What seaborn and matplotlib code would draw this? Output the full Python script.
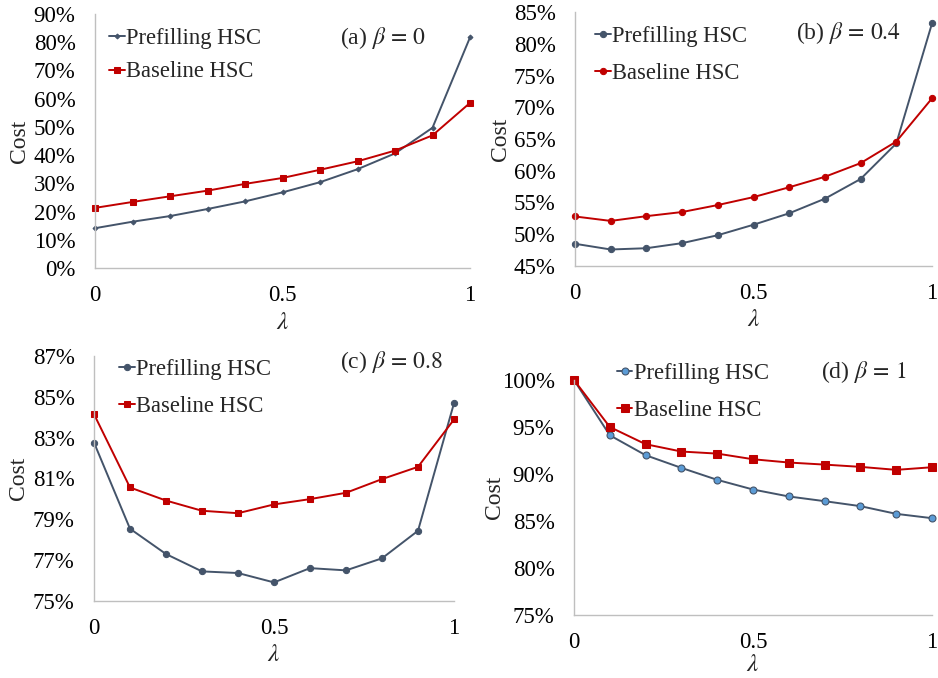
import matplotlib
matplotlib.use("Agg")
import matplotlib.pyplot as plt
import seaborn as sns
import pandas as pd
from matplotlib.ticker import PercentFormatter

# lambda values shared by all panels
lam = [0.0, 0.1, 0.2, 0.3, 0.4, 0.5, 0.6, 0.7, 0.8, 0.9, 1.0]

# cost (fraction) for beta = 0
pref_b0 = [0.141, 0.164, 0.184, 0.209, 0.236, 0.268, 0.304, 0.350, 0.406, 0.497, 0.817]
base_b0 = [0.213, 0.234, 0.254, 0.274, 0.298, 0.319, 0.348, 0.378, 0.416, 0.470, 0.585]

# cost for beta = 0.4
pref_b04 = [0.485, 0.476, 0.478, 0.486, 0.4985, 0.515, 0.533, 0.556, 0.587, 0.643, 0.832]
base_b04 = [0.528, 0.521, 0.5285, 0.535, 0.546, 0.5585, 0.574, 0.5905, 0.612, 0.646, 0.714]

# cost for beta = 0.8
pref_b08 = [0.8276, 0.7854, 0.7730, 0.7645, 0.7637, 0.7591, 0.7661, 0.7650, 0.7709, 0.7844, 0.8469]
base_b08 = [0.8415, 0.8056, 0.7992, 0.7942, 0.7930, 0.7973, 0.7999, 0.8030, 0.8097, 0.8157, 0.8389]

# cost for beta = 1
pref_b1 = [1.000, 0.9412, 0.920, 0.9065, 0.8938, 0.8835, 0.8761, 0.8711, 0.8658, 0.8576, 0.8530]
base_b1 = [1.000, 0.950, 0.9317, 0.9239, 0.9217, 0.9157, 0.9122, 0.910, 0.9076, 0.9044, 0.9072]

series_names = ["Prefilling HSC", "Baseline HSC"]
panel_titles = [r"(a) $\beta\,=\,0$", r"(b) $\beta\,=\,0.4$",
                r"(c) $\beta\,=\,0.8$", r"(d) $\beta\,=\,1$"]
x_ticks = [0, 0.5, 1]
x_tick_labels = ["0", "0.5", "1"]

sns.set_theme(style="white")
plt.rcParams["font.family"] = ["Liberation Serif", "DejaVu Serif"]
plt.rcParams["mathtext.fontset"] = "stix"

W, H = 938, 678
fig = plt.figure(figsize=(W / 100, H / 100), dpi=100)

PREF = "#44546A"
BASE = "#C00000"


def box(left, top, right, bottom):
    return [left / W, 1 - bottom / H, (right - left) / W, (bottom - top) / H]


panels = [
    dict(pos=box(95, 14, 470, 268), pref=pref_b0, base=base_b0,
         ylim=(0, 0.9), yticks=[i / 10 for i in range(10)],
         pm=dict(marker="D", markersize=2.5, mfc=PREF, mec=PREF),
         bm=dict(marker="s", markersize=5, mfc=BASE, mec=BASE),
         title_xy=(0.768, 0.906), leg_xy=(0.037, 0.944), leg_sp=0.54,
         ylab_x=-0.20, xlab_y=-0.217),
    dict(pos=box(575, 12, 932, 266), pref=pref_b04, base=base_b04,
         ylim=(0.45, 0.85), yticks=[0.45 + 0.05 * i for i in range(9)],
         pm=dict(marker="o", markersize=4.5, mfc=PREF, mec=PREF),
         bm=dict(marker="o", markersize=4.5, mfc=BASE, mec=BASE),
         title_xy=(0.767, 0.917), leg_xy=(0.057, 0.946), leg_sp=0.72,
         ylab_x=-0.21, xlab_y=-0.213),
    dict(pos=box(94, 356, 454, 601), pref=pref_b08, base=base_b08,
         ylim=(0.75, 0.87), yticks=[0.75 + 0.02 * i for i in range(7)],
         pm=dict(marker="o", markersize=4.5, mfc=PREF, mec=PREF),
         bm=dict(marker="s", markersize=5, mfc=BASE, mec=BASE),
         title_xy=(0.825, 0.976), leg_xy=(0.069, 0.989), leg_sp=0.72,
         ylab_x=-0.211, xlab_y=-0.22),
    dict(pos=box(574, 380, 932, 615), pref=pref_b1, base=base_b1,
         ylim=(0.75, 1.0), yticks=[0.75 + 0.05 * i for i in range(6)],
         pm=dict(marker="o", markersize=5, mfc="#5B9BD5", mec=PREF, mew=0.8),
         bm=dict(marker="s", markersize=5.5, mfc=BASE, mec=BASE),
         title_xy=(0.81, 1.034), leg_xy=(0.119, 1.074), leg_sp=0.72,
         ylab_x=-0.222, xlab_y=-0.213),
]

for p, title in zip(panels, panel_titles):
    ax = fig.add_axes(p["pos"])
    df = pd.DataFrame({"lam": lam * 2,
                       "cost": p["pref"] + p["base"],
                       "series": [series_names[0]] * len(lam) + [series_names[1]] * len(lam)})
    sub_p = df[df["series"] == series_names[0]]
    sub_b = df[df["series"] == series_names[1]]
    sns.lineplot(data=sub_p, x="lam", y="cost", ax=ax, color=PREF, lw=1.4,
                 label=series_names[0], clip_on=False, **p["pm"])
    sns.lineplot(data=sub_b, x="lam", y="cost", ax=ax, color=BASE, lw=1.4,
                 label=series_names[1], clip_on=False, **p["bm"])

    ax.set_xlim(0, 1)
    ax.set_ylim(*p["ylim"])
    ax.set_yticks(p["yticks"])
    ax.yaxis.set_major_formatter(PercentFormatter(1.0, decimals=0))
    ax.set_xticks(x_ticks)
    ax.set_xticklabels(x_tick_labels)
    ax.tick_params(axis="both", length=0, labelsize=16.5, colors="black")
    ax.tick_params(axis="y", pad=14)
    ax.tick_params(axis="x", pad=12)

    for s in ["top", "right"]:
        ax.spines[s].set_visible(False)
    for s in ["left", "bottom"]:
        ax.spines[s].set_color("#BFBFBF")
        ax.spines[s].set_linewidth(1.0)

    ax.set_ylabel("Cost", fontsize=17)
    ax.yaxis.set_label_coords(p["ylab_x"], 0.5)
    ax.set_xlabel(r"$\lambda$", fontsize=18)
    ax.xaxis.set_label_coords(0.5, p["xlab_y"])
    ax.xaxis.label.set_va("center")
    ax.yaxis.label.set_va("center")

    ax.text(p["title_xy"][0], p["title_xy"][1], title, transform=ax.transAxes,
            ha="center", va="center", fontsize=17)

    ax.legend(loc="upper left", bbox_to_anchor=p["leg_xy"], frameon=False,
              fontsize=16.3, handlelength=0.7, handletextpad=0.05,
              borderpad=0, borderaxespad=0, labelspacing=p["leg_sp"])

fig.savefig("out.png", dpi=100)
